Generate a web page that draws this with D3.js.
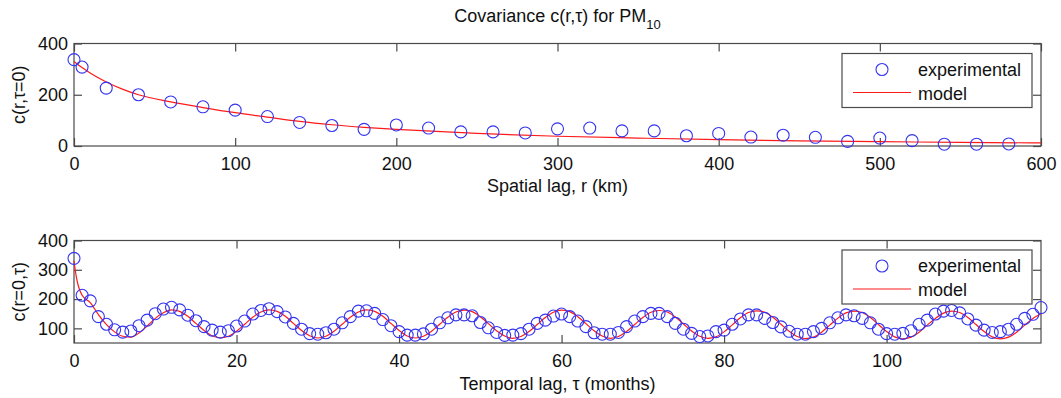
<!DOCTYPE html>
<html>
<head>
<meta charset="utf-8">
<script src="https://cdn.jsdelivr.net/npm/d3@7"></script>
<style>
  html, body { margin: 0; padding: 0; background: #fff; }
  svg { display: block; font-family: "Liberation Sans", Arial, Helvetica, sans-serif; }
</style>
</head>
<body>
<svg id="chart" width="1061" height="398"></svg>
<script>
// ---------- data ----------
const spatialLag = [0, 5, 20, 40, 60, 80, 100, 120, 140, 160, 180, 200, 220, 240, 260, 280, 300,
  320, 340, 360, 380, 400, 420, 440, 460, 480, 500, 520, 540, 560, 580];
const spatialExp = [337, 308, 226, 200, 172, 153, 140, 115, 92, 80, 65, 82, 70, 55, 55, 51, 67,
  70, 59, 59, 40, 49, 35, 42, 34, 18, 31, 21, 7, 7, 8];
const spatialModelR = [0, 5, 10, 20, 30, 40, 60, 80, 100, 120, 140, 160, 180, 200, 250, 300, 350, 400, 450, 500, 550, 600];
const spatialModelC = [330, 306, 285, 250, 222, 200, 172, 150, 130, 113, 96, 83, 73, 65, 49, 38, 31, 25, 20, 17, 14, 12];

const temporalLag = d3.range(0, 120);
const temporalExp = [
  339, 213, 194, 140, 114, 95, 87, 91, 109, 128, 150, 166, 172, 163, 145, 126, 106, 94, 87, 92,
  108, 125, 149, 161, 167, 157, 139, 117, 97, 82,
  80, 85, 97, 119, 140, 159, 160, 151, 130, 109, 89, 77, 77, 81, 97, 119, 136, 146, 146, 143,
  120, 102, 86, 76, 77, 82, 97, 117, 128,
  142, 149, 140, 125, 106, 85, 80, 80, 86, 106, 125, 140, 151, 151, 140, 117, 97, 83, 72, 74,
  89, 94, 114, 132, 146, 146, 134, 120, 105, 90,
  80, 80, 89, 100, 119, 136, 146, 143, 134, 119, 97, 82, 80, 83, 92, 114, 128, 149, 159, 161,
  153, 132, 111, 94, 86, 89, 97, 114, 134, 148, 171];
const temporalModelT = [0, 0.25, 0.5].concat(d3.range(1, 120));
const temporalModelC = [
  330, 282, 248, 213, 188, 147, 113, 88, 73, 70, 84, 108, 134, 153,
  163, 158, 141, 117, 93, 75, 68, 73, 90, 114, 138, 156,
  163, 158, 141, 117, 93, 75, 67, 73, 90, 114, 138, 156,
  163, 158, 141, 117, 93, 74, 67, 73, 90, 114, 138, 156,
  162, 157, 140, 116, 92, 74, 66, 72, 89, 113, 137, 155,
  162, 157, 140, 116, 92, 74, 66, 72, 89, 113, 137, 155,
  161, 156, 139, 115, 91, 73, 66, 71, 88, 112, 136, 154,
  160, 155, 138, 114, 90, 72, 65, 70, 87, 111, 135, 153,
  159, 154, 137, 113, 89, 71, 64, 70, 87, 111, 134, 152,
  159, 154, 137, 113, 89, 71, 64, 70, 87, 111, 134, 150];

const xTicksTop = [0, 100, 200, 300, 400, 500, 600];
const yTicksTop = [0, 200, 400];
const xTicksBottom = [0, 20, 40, 60, 80, 100];
const yTicksBottom = [100, 200, 300, 400];
const legendLabels = ["experimental", "model"];

// ---------- drawing ----------
const svg = d3.select("#chart");
const AX = "#4a4a4a", BLUE = "#3434f0", RED = "#ff1a1a";
const FS = 18;

function panel(opts) {
  const { x0, x1, y0, y1, xDomain, yDomain, xTicks, yTicks, xs, ys, mx, my, xLabel, yLabel } = opts;
  const x = d3.scaleLinear().domain(xDomain).range([x0, x1]);
  const y = d3.scaleLinear().domain(yDomain).range([y1, y0]);
  const g = svg.append("g");

  // box
  g.append("rect").attr("x", x0).attr("y", y0).attr("width", x1 - x0).attr("height", y1 - y0)
    .attr("fill", "#fff").attr("stroke", AX).attr("stroke-width", 1.2);

  const styleAxis = sel => {
    sel.select(".domain").remove();
    sel.selectAll("line").attr("stroke", AX).attr("stroke-width", 1.2);
    sel.selectAll("text").attr("fill", "#111").style("font-size", FS + "px").style("font-family", "Liberation Sans, Arial, sans-serif");
  };
  g.append("g").attr("transform", `translate(0,${y1})`)
    .call(d3.axisBottom(x).tickValues(xTicks).tickSize(-8).tickPadding(11).tickFormat(d3.format("d")))
    .call(styleAxis);
  g.append("g").attr("transform", `translate(0,${y0})`)
    .call(d3.axisTop(x).tickValues(xTicks).tickSize(-8).tickFormat(""))
    .call(styleAxis);
  g.append("g").attr("transform", `translate(${x0},0)`)
    .call(d3.axisLeft(y).tickValues(yTicks).tickSize(-8).tickPadding(6).tickFormat(d3.format("d")))
    .call(styleAxis);
  g.append("g").attr("transform", `translate(${x1},0)`)
    .call(d3.axisRight(y).tickValues(yTicks).tickSize(-8).tickFormat(""))
    .call(styleAxis);

  // model line
  const line = d3.line().x(d => x(d[0])).y(d => y(d[1])).curve(d3.curveMonotoneX);
  g.append("path").datum(d3.zip(mx, my)).attr("d", line)
    .attr("fill", "none").attr("stroke", RED).attr("stroke-width", 1.2);

  // experimental markers
  g.append("g").selectAll("circle").data(d3.zip(xs, ys)).join("circle")
    .attr("cx", d => x(d[0])).attr("cy", d => y(d[1])).attr("r", 6)
    .attr("fill", "none").attr("stroke", BLUE).attr("stroke-width", 1.1);

  // axis labels
  g.append("text").attr("x", (x0 + x1) / 2).attr("y", opts.xLabelY)
    .attr("text-anchor", "middle").style("font-size", FS + "px").attr("fill", "#111").text(xLabel);
  g.append("text").attr("transform", `translate(25,${(y0 + y1) / 2}) rotate(-90)`)
    .attr("text-anchor", "middle").style("font-size", FS + "px").attr("fill", "#111").text(yLabel);

  // legend
  const lx = 842, lw = 190, ly = opts.legendY, lh = 54;
  const lg = g.append("g");
  lg.append("rect").attr("x", lx).attr("y", ly).attr("width", lw).attr("height", lh)
    .attr("fill", "#fff").attr("stroke", AX).attr("stroke-width", 1.2);
  lg.append("circle").attr("cx", 882).attr("cy", ly + 16).attr("r", 6)
    .attr("fill", "none").attr("stroke", BLUE).attr("stroke-width", 1.1);
  lg.append("line").attr("x1", 853).attr("x2", 911).attr("y1", ly + 39).attr("y2", ly + 39)
    .attr("stroke", RED).attr("stroke-width", 1.2);
  lg.selectAll("text.leg").data(legendLabels).join("text").attr("class", "leg")
    .attr("x", 918).attr("y", (d, i) => ly + 22 + i * 24)
    .style("font-size", FS + "px").attr("fill", "#111").text(d => d);
  return g;
}

panel({
  x0: 74, x1: 1041, y0: 43.5, y1: 146, xDomain: [0, 600], yDomain: [0, 400],
  xTicks: xTicksTop, yTicks: yTicksTop, xs: spatialLag, ys: spatialExp,
  mx: spatialModelR, my: spatialModelC,
  xLabel: "Spatial lag, r (km)", yLabel: "c(r,\u03C4=0)", xLabelY: 192, legendY: 53.5
});
panel({
  x0: 74, x1: 1041, y0: 240.5, y1: 343, xDomain: [0, 119], yDomain: [50, 400],
  xTicks: xTicksBottom, yTicks: yTicksBottom, xs: temporalLag, ys: temporalExp,
  mx: temporalModelT, my: temporalModelC,
  xLabel: "Temporal lag, \u03C4 (months)", yLabel: "c(r=0,\u03C4)", xLabelY: 390, legendY: 250
});

// title
const title = svg.append("text").attr("x", 557.5).attr("y", 22).attr("text-anchor", "middle")
  .style("font-size", FS + "px").attr("fill", "#111");
title.append("tspan").text("Covariance c(r,\u03C4) for PM");
title.append("tspan").attr("dy", 7).style("font-size", "13px").text("10");
</script>
</body>
</html>
